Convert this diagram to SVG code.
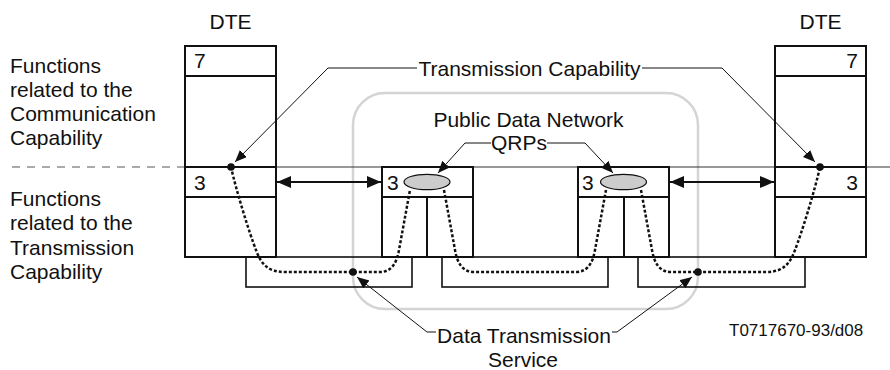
<svg xmlns="http://www.w3.org/2000/svg" width="890" height="370" viewBox="0 0 890 370">
<style>
text{font-family:"Liberation Sans",Arial,sans-serif;font-size:21px;fill:#111}
.box{fill:none;stroke:#111;stroke-width:2}
.thin{fill:none;stroke:#111;stroke-width:1}
.dots{fill:none;stroke:#111;stroke-width:2.5;stroke-dasharray:3 2}
.dbl{fill:none;stroke:#111;stroke-width:2}
</style>
<defs>
<marker id="ah" markerUnits="userSpaceOnUse" markerWidth="14" markerHeight="12" refX="12" refY="5" orient="auto">
<path d="M0,0 L12,5 L0,10 Z" fill="#111"/>
</marker>
<marker id="dh" markerUnits="userSpaceOnUse" markerWidth="16" markerHeight="14" refX="14" refY="6" orient="auto-start-reverse">
<path d="M0,0 L14,6 L0,12 Z" fill="#111"/>
</marker>
</defs>

<g id="network">
<rect x="353" y="93" width="345" height="216" rx="32" ry="32" fill="none" stroke="#d4d4d4" stroke-width="2.5"/>
<text x="528.5" y="127" text-anchor="middle">Public Data Network</text>
</g>

<g id="side-labels">
<text x="10" y="73">Functions</text>
<text x="10" y="97">related to the</text>
<text x="10" y="121">Communication</text>
<text x="10" y="145">Capability</text>
<text x="10" y="206">Functions</text>
<text x="10" y="230">related to the</text>
<text x="10" y="254.5">Transmission</text>
<text x="10" y="279">Capability</text>
<line x1="12" y1="167" x2="185" y2="167" stroke="#555" stroke-width="1" stroke-dasharray="8 7"/>
<line x1="185" y1="167" x2="890" y2="167" stroke="#333" stroke-width="1"/>
</g>

<g id="dte-left">
<text x="230.5" y="29" text-anchor="middle">DTE</text>
<rect class="box" x="185" y="46" width="91" height="211"/>
<line class="box" x1="185" y1="76" x2="276" y2="76"/>
<line class="box" x1="185" y1="167" x2="276" y2="167"/>
<line class="box" x1="185" y1="197" x2="276" y2="197"/>
<text x="194" y="68">7</text>
<text x="194" y="190">3</text>
</g>

<g id="dte-right">
<text x="820.5" y="29" text-anchor="middle">DTE</text>
<rect class="box" x="775" y="46" width="91" height="211"/>
<line class="box" x1="775" y1="76" x2="866" y2="76"/>
<line class="box" x1="775" y1="167" x2="866" y2="167"/>
<line class="box" x1="775" y1="197" x2="866" y2="197"/>
<text x="858" y="68" text-anchor="end">7</text>
<text x="858" y="190" text-anchor="end">3</text>
</g>

<g id="node-mid-left">
<rect class="box" x="382" y="167" width="91" height="90"/>
<line class="box" x1="382" y1="197" x2="473" y2="197"/>
<line class="box" x1="427" y1="197" x2="427" y2="257"/>
<text x="387" y="190">3</text>
<ellipse cx="427" cy="182" rx="23" ry="7.7" fill="#cccccc" stroke="#111" stroke-width="1.2"/>
</g>

<g id="node-mid-right">
<rect class="box" x="578" y="167" width="91" height="90"/>
<line class="box" x1="578" y1="197" x2="669" y2="197"/>
<line class="box" x1="624" y1="197" x2="624" y2="257"/>
<text x="582" y="190">3</text>
<ellipse cx="623.5" cy="182" rx="23" ry="7.7" fill="#cccccc" stroke="#111" stroke-width="1.2"/>
</g>

<g id="link-left">
<rect class="box" x="246" y="257" width="166" height="30" style="stroke-width:1.6"/>
</g>
<g id="link-mid">
<rect class="box" x="442" y="257" width="166" height="30" style="stroke-width:1.6"/>
</g>
<g id="link-right">
<rect class="box" x="638" y="257" width="167" height="30" style="stroke-width:1.6"/>
</g>

<g id="connectors">
<line class="dbl" x1="277" y1="182" x2="381" y2="182" marker-start="url(#dh)" marker-end="url(#dh)"/>
<line class="dbl" x1="670" y1="182" x2="774" y2="182" marker-start="url(#dh)" marker-end="url(#dh)"/>

<path class="dots" d="M231,167 C236,190 250,235 256,250 C261,264 268,272 285,272 L380,272 C392,272 397,262 399,250 L410,190"/>
<path class="dots" d="M444,190 L455,250 C457,262 462,272 474,272 L576,272 C588,272 593,262 595,250 L606,190"/>
<path class="dots" d="M641,190 L652,250 C654,262 659,272 671,272 L766,272 C783,272 790,264 795,250 C801,235 815,190 820,167"/>
<circle cx="231" cy="167" r="3.8" fill="#111"/>
<circle cx="353" cy="272" r="3.8" fill="#111"/>
<circle cx="698" cy="272" r="3.8" fill="#111"/>
<circle cx="820" cy="167" r="3.8" fill="#111"/>

<polyline class="thin" points="417,68 328,68 235,162" marker-end="url(#ah)"/>
<polyline class="thin" points="642,68 722,68 815,162" marker-end="url(#ah)"/>
<polyline class="thin" points="491,143 465,143 438,173" marker-end="url(#ah)"/>
<polyline class="thin" points="547,143 585,143 613,173" marker-end="url(#ah)"/>
<polyline class="thin" points="436,332 427,332 357,277" marker-end="url(#ah)"/>
<polyline class="thin" points="612,332 617,332 692,277" marker-end="url(#ah)"/>
</g>

<g id="labels">
<text x="529.5" y="76" text-anchor="middle">Transmission Capability</text>
<text x="519" y="150" text-anchor="middle">QRPs</text>
<text x="524" y="343" text-anchor="middle">Data Transmission</text>
<text x="523" y="367" text-anchor="middle">Service</text>
<text x="729" y="336" style="font-size:17px">T0717670-93/d08</text>
</g>
</svg>
